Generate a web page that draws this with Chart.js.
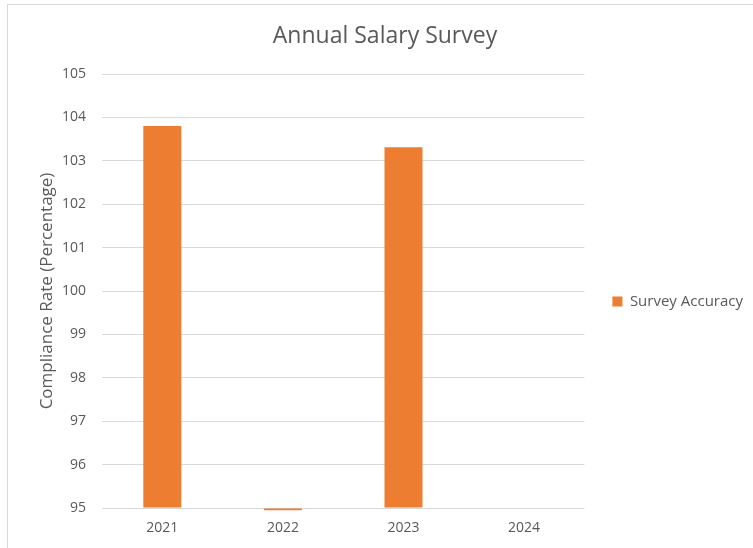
<!DOCTYPE html>
<html>
<head>
<meta charset="utf-8">
<script src="https://cdn.jsdelivr.net/npm/chart.js@4"></script>
<style>
  html,body{margin:0;padding:0;background:#fff;}
  #wrap{position:relative;width:753px;height:548px;overflow:hidden;}
  #frame{position:absolute;left:7px;top:4px;width:800px;height:600px;border:1px solid #d9d9d9;box-sizing:border-box;}
  canvas{position:absolute;left:0;top:0;}
</style>
</head>
<body>
<div id="wrap">
  <div id="frame"></div>
  <canvas id="c" width="753" height="548"></canvas>
</div>
<script>
var years=['2021','2022','2023','2024'];
var accuracy=[103.8,94.95,103.31,null];
var seriesName='Survey Accuracy';
var chartTitle='Annual Salary Survey';
var yTitle='Compliance Rate (Percentage)';
var yMin=95,yMax=105,yStep=1;

var grey='#595959';
var font="'Open Sans', 'Liberation Sans', sans-serif";
Chart.defaults.font.family=font;
Chart.defaults.color=grey;

new Chart(document.getElementById('c').getContext('2d'),{
  type:'bar',
  data:{labels:years,datasets:[{label:seriesName,data:accuracy,backgroundColor:'#ed7d31',
    borderWidth:0,base:yMin,barPercentage:0.315,categoryPercentage:1,clip:false}]},
  options:{
    responsive:false,animation:false,
    layout:{padding:{left:17,top:4,right:0,bottom:0}},
    plugins:{
      title:{display:true,text:chartTitle,color:grey,font:{size:23,weight:'normal'},padding:{top:19,bottom:23.4}},
      legend:{position:'right',
        title:{display:true,text:' ',font:{size:10},padding:19.5},
        labels:{boxWidth:10,boxHeight:10,padding:28,color:grey,font:{size:15}}},
      tooltip:{enabled:false}
    },
    scales:{
      x:{grid:{display:false,drawTicks:false},border:{display:false},ticks:{color:grey,font:{size:14},padding:11.6}},
      y:{min:yMin,max:yMax,ticks:{stepSize:yStep,color:grey,font:{size:14},padding:16},
        grid:{color:'#d9d9d9',drawTicks:false},border:{display:false},
        afterFit:function(s){s.width=85;},
        title:{display:true,text:yTitle,color:grey,font:{size:17},padding:{top:19.6,bottom:5}}}
    }
  }
});
</script>
</body>
</html>
